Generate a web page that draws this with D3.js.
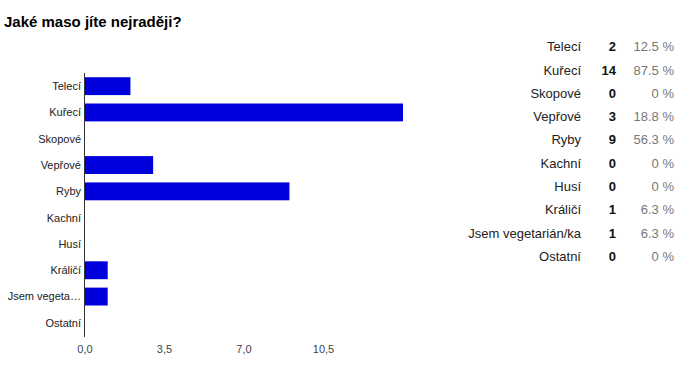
<!DOCTYPE html>
<html>
<head>
<meta charset="utf-8">
<script src="https://cdn.jsdelivr.net/npm/d3@7"></script>
<style>
  body { margin: 0; background: #fff; }
  text { font-family: Arial, "Liberation Sans", sans-serif; }
</style>
</head>
<body>
<svg width="684" height="371"></svg>
<script>
var categories = ["Telecí", "Kuřecí", "Skopové", "Vepřové", "Ryby", "Kachní", "Husí", "Králičí", "Jsem vegetarián/ka", "Ostatní"];
var shortLabels = ["Telecí", "Kuřecí", "Skopové", "Vepřové", "Ryby", "Kachní", "Husí", "Králičí", "Jsem vegeta…", "Ostatní"];
var counts = [2, 14, 0, 3, 9, 0, 0, 1, 1, 0];
var percents = ["12.5 %", "87.5 %", "0 %", "18.8 %", "56.3 %", "0 %", "0 %", "6.3 %", "6.3 %", "0 %"];
var tickValues = [0, 3.5, 7, 10.5];

var svg = d3.select("svg");

svg.append("text")
   .attr("x", 4)
   .attr("y", 27)
   .attr("font-size", 15)
   .attr("font-weight", "bold")
   .attr("fill", "#000")
   .text("Jaké maso jíte nejraději?");

var x = d3.scaleLinear().domain([0, 14]).range([85, 403]);
var y = d3.scaleBand().domain(categories).range([73, 336]).paddingInner(0.32).paddingOuter(0.16);

var g = svg.append("g");

g.selectAll(".bar")
 .data(categories)
 .enter().append("rect")
 .attr("class", "bar")
 .attr("x", x(0))
 .attr("y", function(d) { return y(d); })
 .attr("width", function(d, i) { return x(counts[i]) - x(0); })
 .attr("height", y.bandwidth())
 .attr("fill", "#0000dc");

// category labels
g.selectAll(".cat")
 .data(categories)
 .enter().append("text")
 .attr("class", "cat")
 .attr("x", 81)
 .attr("y", function(d) { return y(d) + y.bandwidth() / 2; })
 .attr("dy", "0.35em")
 .attr("text-anchor", "end")
 .attr("font-size", 11)
 .attr("fill", "#222")
 .text(function(d, i) { return shortLabels[i]; });

// axis line
g.append("line")
 .attr("x1", 84.5).attr("x2", 84.5)
 .attr("y1", 73).attr("y2", 337)
 .attr("stroke", "#333")
 .attr("stroke-width", 1);

// x tick labels
g.selectAll(".tick")
 .data(tickValues)
 .enter().append("text")
 .attr("class", "tick")
 .attr("x", function(d) { return x(d); })
 .attr("y", 353)
 .attr("text-anchor", "middle")
 .attr("font-size", 11)
 .attr("fill", "#444")
 .text(function(d) { return d3.format(".1f")(d).replace(".", ","); });

// summary table
var rowY = d3.scaleBand().domain(categories).range([35, 268]);

var rows = svg.selectAll(".row")
  .data(categories)
  .enter().append("g")
  .attr("class", "row")
  .attr("transform", function(d) { return "translate(0," + (rowY(d) + rowY.bandwidth() / 2) + ")"; });

rows.append("text")
    .attr("x", 581)
    .attr("dy", "0.35em")
    .attr("text-anchor", "end")
    .attr("font-size", 13)
    .attr("fill", "#222")
    .text(function(d) { return d; });

rows.append("text")
    .attr("x", 616)
    .attr("dy", "0.35em")
    .attr("text-anchor", "end")
    .attr("font-size", 13)
    .attr("font-weight", "bold")
    .attr("fill", "#111")
    .text(function(d, i) { return counts[i]; });

rows.append("text")
    .attr("x", 674)
    .attr("dy", "0.35em")
    .attr("text-anchor", "end")
    .attr("font-size", 13)
    .attr("fill", "#777")
    .text(function(d, i) { return percents[i]; });
</script>
</body>
</html>
